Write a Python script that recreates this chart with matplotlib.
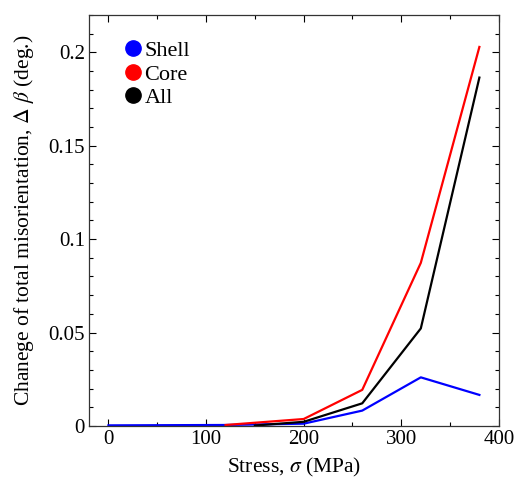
import matplotlib
matplotlib.use('Agg')
import matplotlib.pyplot as plt
from matplotlib.ticker import MultipleLocator, FuncFormatter

plt.rcParams['font.family'] = ['Liberation Serif', 'DejaVu Serif']
plt.rcParams['mathtext.fontset'] = 'stix'

# data
shell_x = [0, 120, 200, 260, 320, 380]
shell_y = [0.0003, 0.0005, 0.0012, 0.0082, 0.026, 0.0166]
core_x = [120, 200, 260, 320, 380]
core_y = [0.0005, 0.0037, 0.0193, 0.0873, 0.2029]
all_x = [150, 200, 260, 320, 380]
all_y = [0.0002, 0.0022, 0.0121, 0.0522, 0.1865]

fig = plt.figure(figsize=(5.17, 4.84), dpi=100)
ax = fig.add_axes([0.172, 0.12, 0.793, 0.849])

ax.plot(shell_x, shell_y, color='#0000ff', lw=1.6, label='Shell')
ax.plot(core_x, core_y, color='#ff0000', lw=1.6, label='Core')
ax.plot(all_x, all_y, color='black', lw=1.6, label='All')

ax.set_xlim(-20, 400)
ax.set_ylim(0, 0.22)
ax.xaxis.set_major_locator(MultipleLocator(100))
ax.xaxis.set_minor_locator(MultipleLocator(50))
ax.yaxis.set_major_locator(MultipleLocator(0.05))
ax.yaxis.set_minor_locator(MultipleLocator(0.01))
ax.yaxis.set_major_formatter(FuncFormatter(lambda v, p: '0' if v == 0 else ('%g' % round(v, 3))))
ax.tick_params(which='both', direction='in', top=True, right=True, labelsize=15, width=0.8, pad=3)
ax.tick_params(which='major', length=5)
ax.tick_params(which='minor', length=3)
for s in ax.spines.values():
    s.set_linewidth(0.9)
    s.set_color('#333333')

ax.set_xlabel(r'Stress, $\sigma$ (MPa)', fontsize=15.5, labelpad=5)
ax.set_ylabel(r'Chanege of total misorientation, $\Delta$ $\beta$ (deg.)', fontsize=15.5, labelpad=9)

leg = ax.legend(loc='upper left', bbox_to_anchor=(0.07, 0.96), frameon=False, fontsize=16,
                handlelength=0.6, handletextpad=0.2, labelspacing=0.14, borderaxespad=0)
for h, c in zip(leg.legend_handles, ['#0000ff', '#ff0000', 'black']):
    h.set_marker('o')
    h.set_markersize(11)
    h.set_markerfacecolor(c)
    h.set_markeredgecolor(c)
    h.set_linestyle('')

fig.savefig('out.png', dpi=100)
